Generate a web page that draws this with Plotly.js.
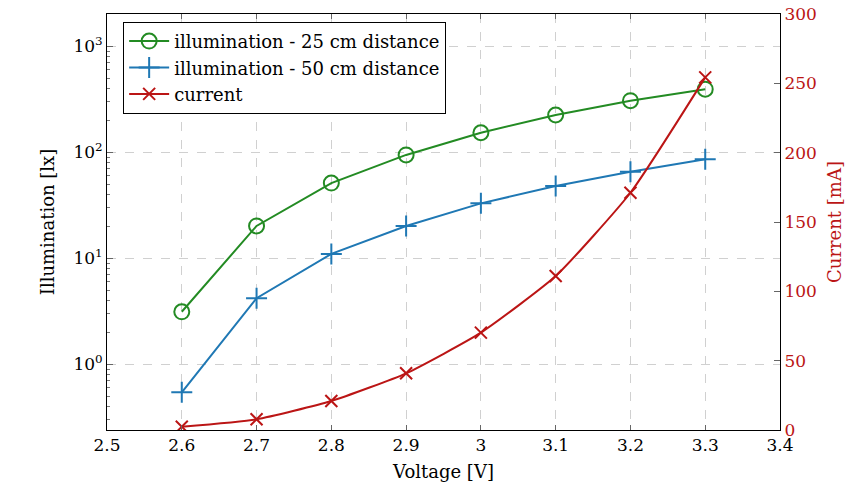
<!DOCTYPE html>
<html>
<head>
<meta charset="utf-8">
<script src="https://cdn.plot.ly/plotly-3.0.1.min.js"></script>
<style>
html,body{margin:0;padding:0;background:#fff;}
#chart{width:863px;height:499px;}
</style>
</head>
<body>
<div id="chart"></div>
<script>
const voltage = [2.6, 2.7, 2.8, 2.9, 3.0, 3.1, 3.2, 3.3];
const illum25 = [3.13, 20.2, 51.3, 94.5, 153, 225, 307, 394];
const illum50 = [0.544, 4.2, 11.0, 20.2, 33, 48, 65.6, 86];
const current = [2.4, 7.7, 20.9, 40.9, 70.2, 111, 171.1, 254.3];

const xTickVals = [2.5, 2.6, 2.7, 2.8, 2.9, 3.0, 3.1, 3.2, 3.3, 3.4];
const xTickText = ['2.5', '2.6', '2.7', '2.8', '2.9', '3', '3.1', '3.2', '3.3', '3.4'];
const yTickVals = [1, 10, 100, 1000];
const yTickText = ['10<sup>0</sup>', '10<sup>1</sup>', '10<sup>2</sup>', '10<sup>3</sup>'];
const yMinorVals = [];
[0.1, 1, 10, 100, 1000].forEach(d => { for (let k = 2; k <= 9; k++) yMinorVals.push(d * k); });

const GREEN = '#238b23', BLUE = '#1f78b4', RED = '#bb1515';

const traces = [
  { x: voltage, y: illum25, name: 'illumination - 25 cm distance', mode: 'lines+markers', yaxis: 'y',
    line: { color: GREEN, width: 2 },
    marker: { symbol: 'circle-open', size: 15, color: GREEN, line: { width: 2, color: GREEN } } },
  { x: voltage, y: illum50, name: 'illumination - 50 cm distance', mode: 'lines+markers', yaxis: 'y',
    line: { color: BLUE, width: 2 },
    marker: { symbol: 'cross-thin', size: 15, color: BLUE, line: { width: 2, color: BLUE } } },
  { x: voltage, y: current, name: 'current', mode: 'lines+markers', yaxis: 'y2',
    line: { color: RED, width: 2, shape: 'spline', smoothing: 0.5 },
    marker: { symbol: 'x-thin', size: 12, color: RED, line: { width: 2, color: RED } } }
];

const layout = {
  width: 863, height: 499,
  margin: { l: 107, r: 83, t: 14, b: 69 },
  paper_bgcolor: '#fff', plot_bgcolor: '#fff',
  font: { family: 'DejaVu Serif', size: 17, color: '#000' },
  showlegend: true,
  legend: { x: 0.024, y: 0.981, xanchor: 'left', yanchor: 'top', bgcolor: '#fff',
            bordercolor: '#000', borderwidth: 1, font: { family: 'DejaVu Serif', size: 18, color: '#000' },
            tracegroupgap: 0, itemwidth: 40 },
  xaxis: {
    range: [2.5, 3.4], tickmode: 'array', tickvals: xTickVals, ticktext: xTickText,
    showline: true, linecolor: '#000', linewidth: 1, mirror: 'ticks',
    ticks: 'inside', ticklen: 5, tickcolor: '#666',
    showgrid: true, gridcolor: '#d0d0d0', griddash: 'dash', gridwidth: 1,
    zeroline: false, tickfont: { family: 'DejaVu Serif', size: 17, color: '#000' },
    title: { text: 'Voltage [V]', font: { family: 'DejaVu Serif', size: 18, color: '#000' }, standoff: 10 }
  },
  yaxis: {
    type: 'log', range: [Math.log10(0.24), Math.log10(2018)],
    tickmode: 'array', tickvals: yTickVals, ticktext: yTickText,
    showline: true, linecolor: '#000', linewidth: 1,
    ticks: 'inside', ticklen: 6, tickcolor: '#666',
    minor: { tickmode: 'array', tickvals: yMinorVals, ticks: 'inside', ticklen: 3, tickcolor: '#777', showgrid: false },
    showgrid: true, gridcolor: '#d0d0d0', griddash: 'dash', gridwidth: 1,
    zeroline: false, tickfont: { family: 'DejaVu Serif', size: 17, color: '#000' },
    title: { text: 'Illumination [lx]', font: { family: 'DejaVu Serif', size: 18, color: '#000' }, standoff: 14 }
  },
  yaxis2: {
    overlaying: 'y', side: 'right', range: [0, 300], dtick: 50, tick0: 0,
    showline: true, linecolor: '#000', linewidth: 1,
    ticks: 'inside', ticklen: 6, tickcolor: '#666',
    showgrid: false, zeroline: false,
    tickfont: { family: 'DejaVu Serif', size: 17, color: RED },
    title: { text: 'Current [mA]', font: { family: 'DejaVu Serif', size: 18, color: RED }, standoff: 12 }
  }
};

Plotly.newPlot('chart', traces, layout, { displayModeBar: false });
</script>
</body>
</html>
